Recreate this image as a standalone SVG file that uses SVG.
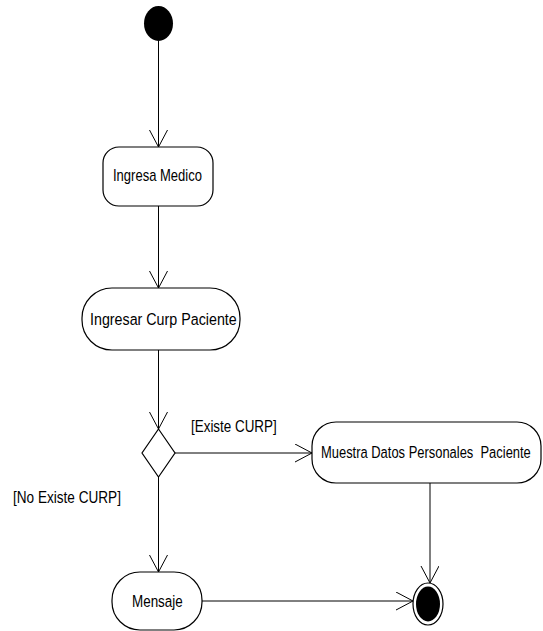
<svg xmlns="http://www.w3.org/2000/svg" width="543" height="631" viewBox="0 0 543 631">
<style>
.n{fill:#fff;stroke:#000;stroke-width:1.2}
.t{font-family:"Liberation Sans",Arial,sans-serif;font-size:17px;fill:#000;white-space:pre}
.c{fill:none;stroke:#000;stroke-width:1}
</style>
<defs>
<marker id="a" markerWidth="20" markerHeight="20" refX="17" refY="9" orient="auto" markerUnits="userSpaceOnUse">
<path d="M0,0 L17,9 L0,18" fill="none" stroke="#000" stroke-width="1"/>
</marker>
</defs>
<rect width="543" height="631" fill="#fff"/>
<g id="connectors">
<line class="c" x1="158.5" y1="41" x2="158.5" y2="147" marker-end="url(#a)"/>
<line class="c" x1="158.5" y1="206" x2="158.5" y2="288" marker-end="url(#a)"/>
<line class="c" x1="158.5" y1="350" x2="158.5" y2="429" marker-end="url(#a)"/>
<line class="c" x1="175" y1="453" x2="312" y2="453" marker-end="url(#a)"/>
<line class="c" x1="158.5" y1="477" x2="158.5" y2="572" marker-end="url(#a)"/>
<line class="c" x1="430" y1="483" x2="430" y2="583" marker-end="url(#a)"/>
<line class="c" x1="202" y1="601" x2="413" y2="601" marker-end="url(#a)"/>
<text class="t" transform="translate(191,432) scale(0.79,1)">[Existe CURP]</text>
<text class="t" transform="translate(13,503) scale(0.8,1)">[No Existe CURP]</text>
</g>
<g id="start">
<ellipse cx="158.5" cy="23.5" rx="14.5" ry="17.5" fill="#000"/>
</g>
<g id="ingresaMedico">
<rect class="n" x="103" y="147" width="110" height="59" rx="16" ry="16"/>
<text class="t" transform="translate(113,181) scale(0.766,1)">Ingresa Medico</text>
</g>
<g id="ingresarCurp">
<rect class="n" x="82" y="288" width="158" height="62" rx="30" ry="30"/>
<text class="t" transform="translate(90,325) scale(0.84,1)">Ingresar Curp Paciente</text>
</g>
<g id="decision">
<polygon class="n" points="158.5,429 175,453 158.5,477 142,453"/>
</g>
<g id="muestraDatos">
<rect class="n" x="312" y="422" width="229" height="61" rx="24" ry="24"/>
<text class="t" transform="translate(321,458) scale(0.761,1)" xml:space="preserve">Muestra Datos Personales  Paciente</text>
</g>
<g id="mensaje">
<rect class="n" x="112" y="572" width="90" height="58" rx="28" ry="28"/>
<text class="t" transform="translate(132,607) scale(0.79,1)">Mensaje</text>
</g>
<g id="end">
<ellipse cx="428" cy="604" rx="15" ry="21" fill="#fff" stroke="#000" stroke-width="1.2"/>
<ellipse cx="428" cy="604" rx="12" ry="17.5" fill="#000"/>
</g>
</svg>
